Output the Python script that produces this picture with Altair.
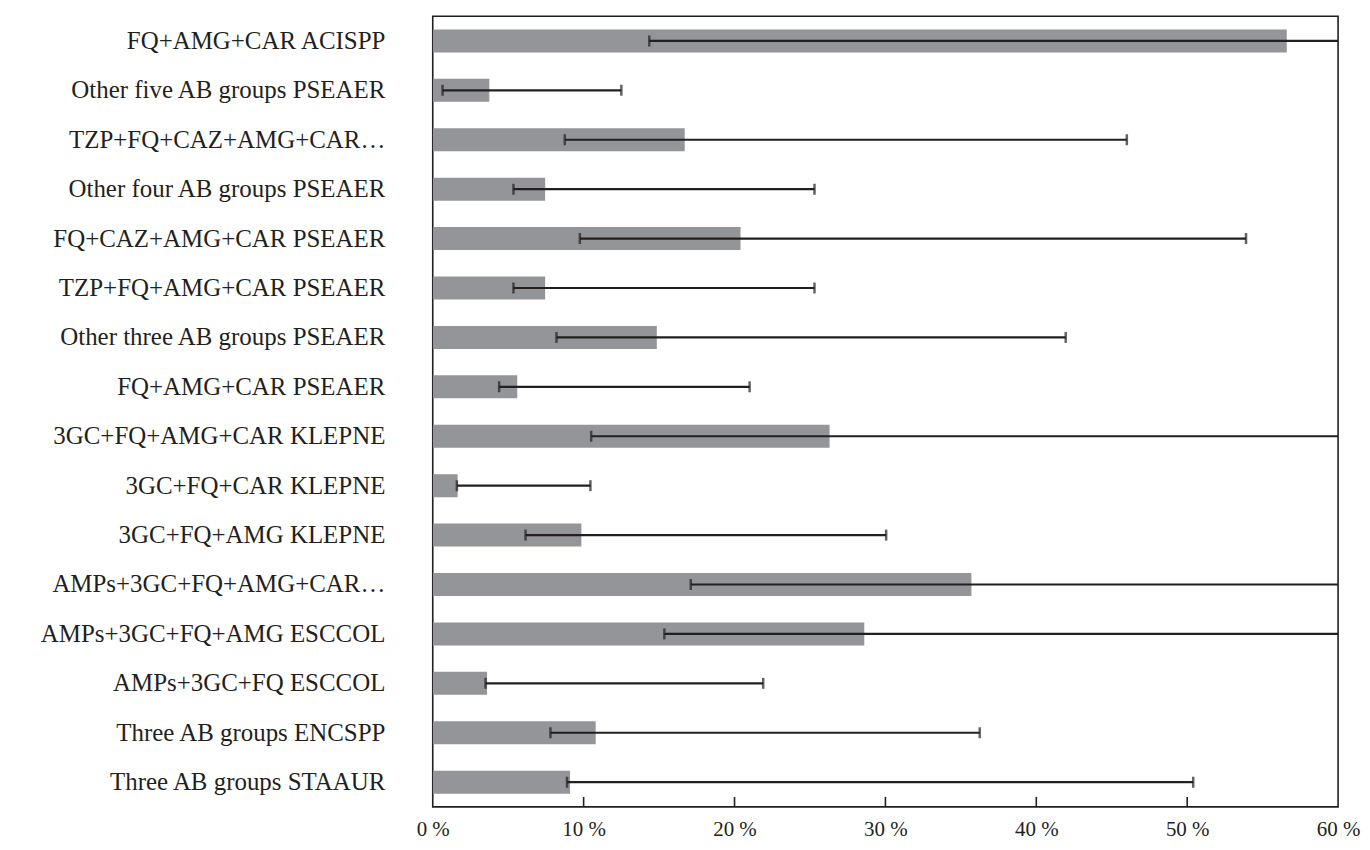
import altair as alt
import pandas as pd

labels = [
    "FQ+AMG+CAR ACISPP",
    "Other five AB groups PSEAER",
    "TZP+FQ+CAZ+AMG+CAR…",
    "Other four AB groups PSEAER",
    "FQ+CAZ+AMG+CAR PSEAER",
    "TZP+FQ+AMG+CAR PSEAER",
    "Other three AB groups PSEAER",
    "FQ+AMG+CAR PSEAER",
    "3GC+FQ+AMG+CAR KLEPNE",
    "3GC+FQ+CAR KLEPNE",
    "3GC+FQ+AMG KLEPNE",
    "AMPs+3GC+FQ+AMG+CAR…",
    "AMPs+3GC+FQ+AMG ESCCOL",
    "AMPs+3GC+FQ ESCCOL",
    "Three AB groups ENCSPP",
    "Three AB groups STAAUR",
]
values = [56.6, 3.75, 16.7, 7.45, 20.4, 7.45, 14.85, 5.6, 26.3, 1.65, 9.85, 35.7, 28.6, 3.6, 10.8, 9.1]
lower = [14.35, 0.65, 8.75, 5.35, 9.75, 5.35, 8.2, 4.4, 10.5, 1.6, 6.15, 17.1, 15.35, 3.5, 7.8, 8.9]
upper = [70, 12.5, 46.0, 25.3, 53.9, 25.3, 41.95, 21.0, 70, 10.45, 30.05, 70, 70, 21.9, 36.25, 50.4]
x_ticks = [0, 10, 20, 30, 40, 50, 60]
inner_ticks = [10, 20, 30, 40, 50]

df = pd.DataFrame({"label": labels, "value": values, "lower": lower, "upper": upper})
tick_df = pd.DataFrame({"t": inner_ticks})

W, H = 908, 793
DARK = "#231f20"
FONT = "Liberation Serif"

x_scale = alt.Scale(domain=[0, 60], nice=False, zero=True)
y_enc = alt.Y(
    "label:N",
    sort=labels,
    title=None,
    scale=alt.Scale(paddingInner=0, paddingOuter=0),
    axis=alt.Axis(
        ticks=False,
        domain=False,
        labelFont=FONT,
        labelFontSize=25,
        labelColor=DARK,
        labelPadding=48,
        labelLimit=420,
    ),
)
x_enc = alt.X(
    "value:Q",
    scale=x_scale,
    title=None,
    axis=alt.Axis(
        values=x_ticks,
        ticks=False,
        tickSize=0,
        domain=False,
        grid=False,
        labelFont=FONT,
        labelFontSize=21,
        labelColor=DARK,
        labelPadding=29,
        labelBaseline="alphabetic",
        labelExpr="datum.value + ' %'",
        labelFlush=False,
        labelOverlap=False,
    ),
)

bars = alt.Chart(df).mark_bar(size=23, color="#939598", clip=True).encode(x=x_enc, y=y_enc)

err = alt.Chart(df).mark_rule(color=DARK, strokeWidth=2.2, clip=True).encode(
    x=alt.X("lower:Q", scale=x_scale), x2="upper:Q", y=alt.Y("label:N", sort=labels)
)
cap_lo = alt.Chart(df).mark_tick(color=DARK, thickness=2.5, size=11, clip=True).encode(
    x=alt.X("lower:Q", scale=x_scale), y=alt.Y("label:N", sort=labels)
)
cap_hi = alt.Chart(df).mark_tick(color=DARK, thickness=2.5, size=11, clip=True).encode(
    x=alt.X("upper:Q", scale=x_scale), y=alt.Y("label:N", sort=labels)
)
axis_ticks = alt.Chart(tick_df).mark_rule(color=DARK, strokeWidth=1.6).encode(
    x=alt.X("t:Q", scale=x_scale), y=alt.value(H), y2=alt.value(H - 10)
)

chart = (
    alt.layer(bars, err, cap_lo, cap_hi, axis_ticks)
    .properties(
        width=W,
        height=H,
        autosize=alt.AutoSizeParams(type="none"),
        padding={"left": 426, "top": 7, "right": 24, "bottom": 34},
        background="white",
    )
    .configure_view(stroke=DARK, strokeWidth=1.6)
)

chart.save("out.html", embed_options={"renderer": "svg", "actions": False})
